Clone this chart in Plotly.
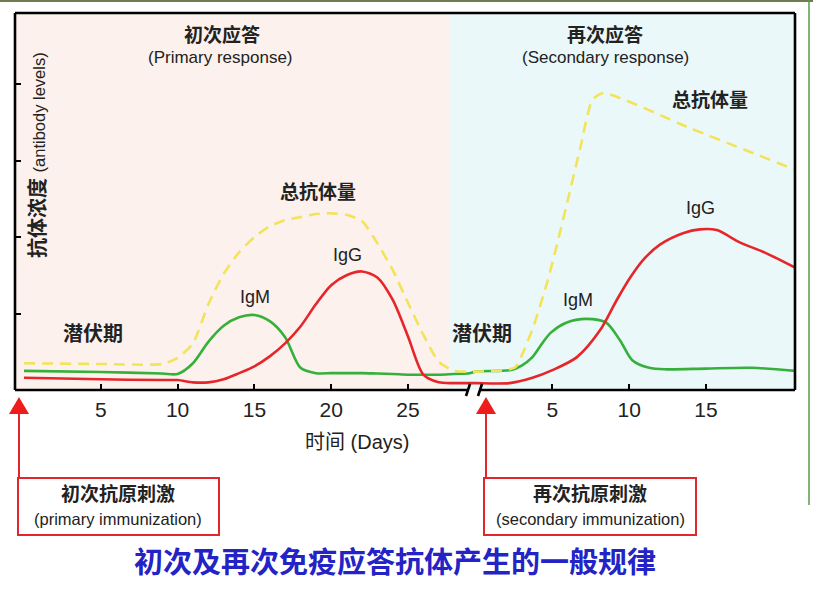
import plotly.graph_objects as go

# primary response (days after first immunization)
primary_days = [0, 5, 9, 10, 11, 12, 13, 14, 15, 16, 17, 18, 19, 20, 21, 22,
                23, 24, 25, 26, 27, 28, 29]
total_primary = [0.35, 0.34, 0.34, 0.42, 0.61, 1.12, 1.52, 1.8, 2.0, 2.14, 2.22,
                 2.26, 2.3, 2.31, 2.29, 2.21, 1.92, 1.57, 1.14, 0.72, 0.37, 0.25, 0.24]
igm_primary = [0.25, 0.235, 0.215, 0.21, 0.35, 0.63, 0.84, 0.95, 0.98, 0.9, 0.69,
               0.29, 0.22, 0.22, 0.22, 0.22, 0.215, 0.21, 0.2, 0.2, 0.2, 0.21, 0.22]
igg_primary = [0.16, 0.14, 0.13, 0.13, 0.1, 0.1, 0.14, 0.22, 0.31, 0.44, 0.61,
               0.83, 1.12, 1.37, 1.5, 1.55, 1.47, 1.18, 0.7, 0.2, 0.1, 0.09, 0.09]

# secondary response (days after second immunization)
total_days_2 = [0, 1, 2, 2.6, 3, 3.75, 4.65, 5.3, 6, 6.8, 7.6, 8.3, 14, 20.8]
total_2 = [0.24, 0.25, 0.26, 0.3, 0.45, 0.82, 1.4, 1.9, 2.48, 3.15, 3.79, 3.88, 3.42, 2.88]
igm_days_2 = [0, 1.5, 2.3, 3, 3.7, 4.3, 4.9, 5.9, 7.2, 8.5, 9.4, 10.2, 11.3, 12.4, 15, 18, 20.8]
igm_2 = [0.24, 0.25, 0.26, 0.32, 0.43, 0.6, 0.75, 0.88, 0.93, 0.88, 0.65, 0.39,
         0.29, 0.27, 0.28, 0.29, 0.25]
igg_days_2 = [0, 2.2, 3.7, 5, 6.6, 8.1, 9.2, 10.1, 11, 12, 13.5, 14.6, 15.7, 17.2, 18.9, 20.8]
igg_2 = [0.09, 0.09, 0.16, 0.26, 0.43, 0.78, 1.18, 1.48, 1.72, 1.9, 2.05, 2.1, 2.09,
         1.93, 1.79, 1.6]

primary_ticks = [5, 10, 15, 20, 25]
secondary_ticks = [5, 10, 15]
SECOND_OFFSET = 29.4  # where day 0 of the secondary response sits on the shared axis

FONT = "Liberation Sans, Arial, Noto Sans CJK SC, sans-serif"
W, H = 813, 589
L, R, T, B = 15, 795, 13, 390  # plot area in pixels


def px(x):
    return (x - L) / (R - L)


def py(y):
    return (B - y) / (B - T)


def shift(days):
    return [d + SECOND_OFFSET for d in days]


fig = go.Figure()
fig.add_trace(go.Scatter(
    x=primary_days + shift(igm_days_2), y=igm_primary + igm_2, mode="lines",
    line=dict(color="#35b03a", width=2.6, shape="spline", smoothing=0.8),
))
fig.add_trace(go.Scatter(
    x=primary_days + shift(igg_days_2), y=igg_primary + igg_2, mode="lines",
    line=dict(color="#e5262b", width=2.6, shape="spline", smoothing=0.8),
))
fig.add_trace(go.Scatter(
    x=primary_days + shift(total_days_2), y=total_primary + total_2, mode="lines",
    line=dict(color="#f2e45a", width=2.6, dash="11px,7px", shape="spline", smoothing=0.6),
))

shapes = [
    dict(type="rect", xref="paper", yref="paper", x0=0, x1=px(450), y0=0, y1=1,
         fillcolor="#fcf1ec", line_width=0, layer="below"),
    dict(type="rect", xref="paper", yref="paper", x0=px(450), x1=1, y0=0, y1=1,
         fillcolor="#ebf8f9", line_width=0, layer="below"),
]
# frame with a broken bottom axis
frame = [(L, T, L, B), (L, T, R, T), (R, T, R, B), (L, B, 468, B), (480, B, R, B),
         (466, 396, 470, 384), (478, 396, 482, 384)]
for x0, y0, x1, y1 in frame:
    shapes.append(dict(type="line", xref="paper", yref="paper", x0=px(x0), y0=py(y0),
                       x1=px(x1), y1=py(y1), line=dict(color="black", width=2.6)))

# immunization arrows and boxes
for ax, bx0, bx1 in [(19, 18, 219), (486, 484, 696)]:
    shapes.append(dict(type="line", xref="paper", yref="paper", x0=px(ax), x1=px(ax),
                       y0=py(413), y1=py(478), line=dict(color="#e3262b", width=2)))
    shapes.append(dict(type="path", xref="paper", yref="paper",
                       path=f"M {px(ax)} {py(397)} L {px(ax - 10)} {py(414)} "
                            f"L {px(ax + 10)} {py(414)} Z",
                       fillcolor="#ee1c1c", line_width=0))
    shapes.append(dict(type="rect", xref="paper", yref="paper", x0=px(bx0), x1=px(bx1),
                       y0=py(478), y1=py(535), line=dict(color="#e3262b", width=2)))

# outer picture border remnants
shapes.append(dict(type="line", xref="paper", yref="paper", x0=px(0), x1=px(W),
                   y0=py(1), y1=py(1), line=dict(color="#6d7b4f", width=2)))
shapes.append(dict(type="line", xref="paper", yref="paper", x0=px(809), x1=px(809),
                   y0=py(0), y1=py(505), line=dict(color="#5a9a48", width=1.5)))

labels = [
    ("<b>初次应答</b>", 222, 35, 19, "#222"),
    ("(Primary response)", 220, 57, 17, "#222"),
    ("<b>再次应答</b>", 605, 35, 19, "#222"),
    ("(Secondary response)", 605, 57, 17, "#222"),
    ("<b>总抗体量</b>", 318, 192, 19, "#222"),
    ("<b>总抗体量</b>", 710, 100, 19, "#222"),
    ("IgM", 255, 297, 18, "#222"),
    ("IgG", 347, 255, 18, "#222"),
    ("IgM", 578, 300, 18, "#222"),
    ("IgG", 700, 208, 18, "#222"),
    ("<b>潜伏期</b>", 93, 333, 20, "#222"),
    ("<b>潜伏期</b>", 482, 333, 20, "#222"),
    ("时间 (Days)", 357, 442, 20, "#222"),
    ("<b>初次抗原刺激</b>", 118, 494, 19, "#222"),
    ("(primary immunization)", 118, 519, 16.5, "#222"),
    ("<b>再次抗原刺激</b>", 590, 494, 19, "#222"),
    ("(secondary immunization)", 590, 519, 16.5, "#222"),
    ("<b>初次及再次免疫应答抗体产生的一般规律</b>", 395, 563, 29, "#2323c6"),
]
annotations = [
    dict(text=t, x=px(x), y=py(y), xref="paper", yref="paper", showarrow=False,
         xanchor="center", yanchor="middle", font=dict(size=s, color=c, family=FONT))
    for t, x, y, s, c in labels
]
annotations.append(dict(
    text="<b>抗体浓度</b> <span style='font-size:16.5px'>(antibody levels)</span>",
    x=px(37), y=py(155), xref="paper", yref="paper", showarrow=False, textangle=-90,
    xanchor="center", yanchor="middle", font=dict(size=20, color="#222", family=FONT),
))

fig.update_layout(
    width=W, height=H,
    margin=dict(l=L, r=W - R, t=T, b=H - B),
    paper_bgcolor="white", plot_bgcolor="white",
    showlegend=False,
    font=dict(family=FONT),
    shapes=shapes,
    annotations=annotations,
    xaxis=dict(
        range=[(L - 24) / 15.36, (R - 24) / 15.36],
        tickvals=primary_ticks + shift(secondary_ticks),
        ticktext=[str(t) for t in primary_ticks + secondary_ticks],
        ticks="inside", ticklen=6, tickwidth=2, tickcolor="black",
        tickfont=dict(size=21, color="#222"), ticklabelstandoff=5,
        showgrid=False, zeroline=False, showline=False, fixedrange=True,
    ),
    yaxis=dict(
        range=[0, (B - T) / 76.5],
        tickvals=[1, 2, 3, 4], showticklabels=False,
        ticks="inside", ticklen=6, tickwidth=2, tickcolor="black",
        showgrid=False, zeroline=False, showline=False, fixedrange=True,
    ),
)

fig.write_html("out.html", config={"displayModeBar": False},
               post_script="document.body.style.margin='0px';")
